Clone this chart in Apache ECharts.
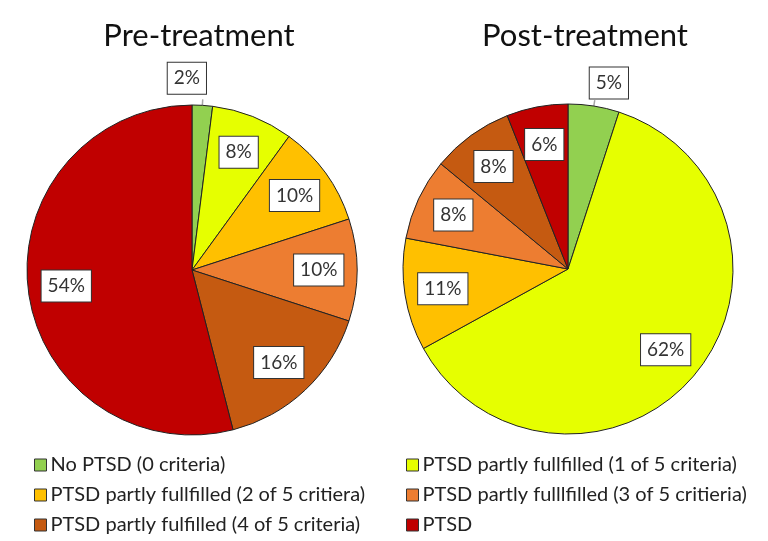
<!DOCTYPE html>
<html>
<head>
<meta charset="utf-8">
<script src="https://cdn.jsdelivr.net/npm/echarts@6/dist/echarts.min.js"></script>
<style>
  html, body { margin: 0; padding: 0; background: #fff; }
  #chart { width: 768px; height: 541px; }
</style>
</head>
<body>
<div id="chart"></div>
<script>
const categories = [
  'No PTSD (0 criteria)',
  'PTSD partly fullfilled (1 of 5 criteria)',
  'PTSD partly fullfilled (2 of 5 critiera)',
  'PTSD partly fulllfilled (3 of 5 critieria)',
  'PTSD partly fulfilled (4 of 5 criteria)',
  'PTSD'
]
const preValues = [2, 8, 10, 10, 16, 54]
const postValues = [5, 62, 11, 8, 8, 6]
const titles = ['Pre-treatment', 'Post-treatment']
const colors = ['#92D050', '#E6FF00', '#FFC000', '#ED7D31', '#C55A11', '#C00000']

const FONT = 'Lato'
const chart = echarts.init(document.getElementById('chart'))

const boxLabel = {
  color: '#333',
  fontFamily: FONT,
  fontSize: 19,
  backgroundColor: '#fff',
  borderColor: '#333',
  borderWidth: 1,
  padding: [7, 6, 5, 6],
  formatter: '{c}%'
}

// offsets lift the tiny-slice label above its leader line
function makePies(values, cx, cy, shift) {
  const R = 165
  const main = {
    type: 'pie',
    center: [cx, cy],
    radius: [0, R],
    startAngle: 90,
    clockwise: true,
    silent: true,
    itemStyle: { borderColor: '#222', borderWidth: 1 },
    label: { show: false },
    labelLine: { show: false },
    labelLayout: function (p) {
      if (p.dataIndex === 0) return { dx: shift[0], dy: shift[1] }
    },
    data: values.map((v, i) => ({
      name: categories[i],
      value: v,
      itemStyle: { color: colors[i] },
      label: i === 0 ? Object.assign({ show: true, position: 'outside' }, boxLabel) : { show: false },
      labelLine: i === 0 ? { show: true, length: 6, length2: 0, lineStyle: { color: '#a6a6a6', width: 1.5 } } : { show: false }
    }))
  }
  // transparent ring, only there to put the inside labels at ~3/4 radius
  const ring = {
    type: 'pie',
    center: [cx, cy],
    radius: [R * 0.5, R],
    startAngle: 90,
    clockwise: true,
    silent: true,
    legendHoverLink: false,
    itemStyle: { color: 'transparent', borderWidth: 0 },
    label: Object.assign({ show: true, position: 'inside' }, boxLabel),
    labelLine: { show: false },
    data: values.map((v, i) => ({
      name: 'ring' + i,
      value: v,
      label: i === 0 ? { show: false } : undefined
    }))
  }
  return [main, ring]
}

const legendBase = {
  orient: 'vertical', top: 455, padding: 0,
  itemWidth: 12, itemHeight: 12, itemGap: 10, icon: 'rect',
  itemStyle: { borderColor: '#333', borderWidth: 1 },
  textStyle: { fontFamily: FONT, fontSize: 20, color: '#222', padding: [0, 0, 0, -1] }
}

chart.setOption({
  animation: false,
  color: colors,
  title: [
    { text: titles[0], left: 194, top: 15, textAlign: 'center',
      textStyle: { fontFamily: FONT, fontSize: 31, fontWeight: 'normal', color: '#111' } },
    { text: titles[1], left: 580, top: 15, textAlign: 'center',
      textStyle: { fontFamily: FONT, fontSize: 31, fontWeight: 'normal', color: '#111' } }
  ],
  legend: [
    Object.assign({ data: [categories[0], categories[2], categories[4]], left: 34 }, legendBase),
    Object.assign({ data: [categories[1], categories[3], categories[5]], left: 406 }, legendBase)
  ],
  series: [
    ...makePies(preValues, 192, 270, [-40, -21]),
    ...makePies(postValues, 568, 269, [-10, -17])
  ]
})
</script>
</body>
</html>
